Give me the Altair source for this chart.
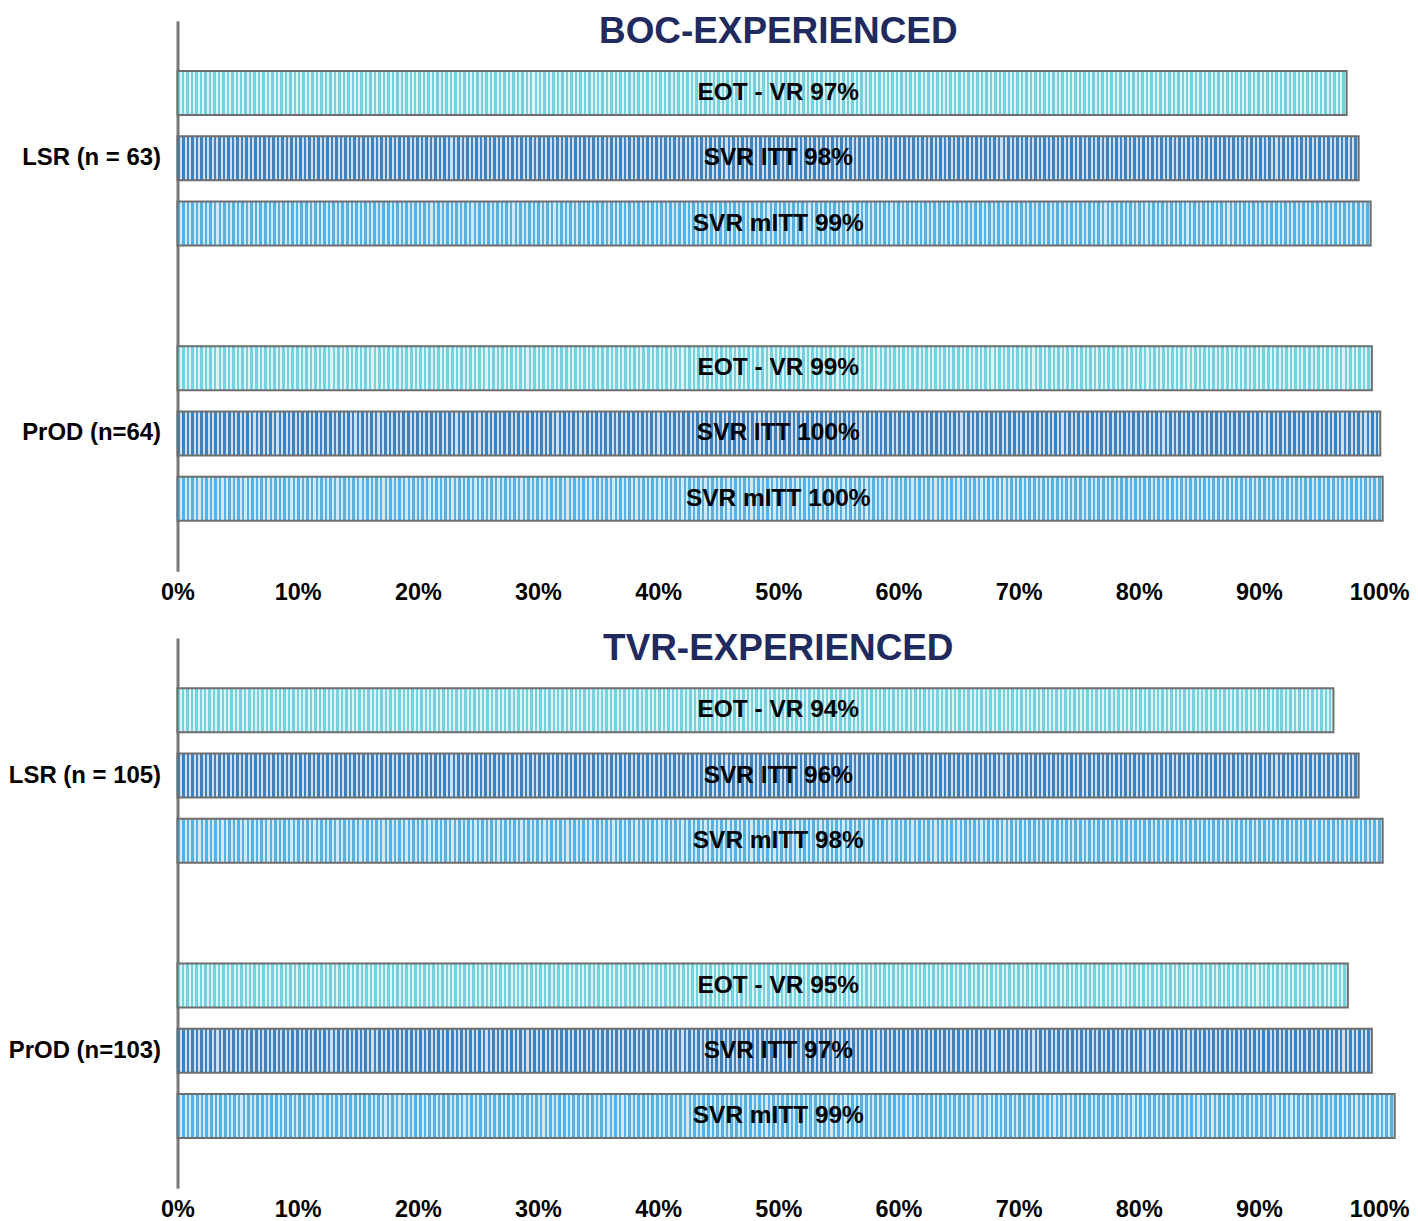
import altair as alt
import pandas as pd

FONT = "Liberation Sans"

measures = ["EOT - VR", "SVR ITT", "SVR mITT"]

boc_title = "BOC-EXPERIENCED"
boc_groups = ["LSR (n = 63)", "PrOD (n=64)"]
boc_values = [97.3, 98.3, 99.3, 99.4, 100.1, 100.3]  # bar lengths as drawn (%)
boc_labels = ["EOT - VR 97%", "SVR ITT 98%", "SVR mITT 99%",
              "EOT - VR 99%", "SVR ITT 100%", "SVR mITT 100%"]

tvr_title = "TVR-EXPERIENCED"
tvr_groups = ["LSR (n = 105)", "PrOD (n=103)"]
tvr_values = [96.2, 98.3, 100.3, 97.4, 99.4, 101.3]  # bar lengths as drawn (%)
tvr_labels = ["EOT - VR 94%", "SVR ITT 96%", "SVR mITT 98%",
              "EOT - VR 95%", "SVR ITT 97%", "SVR mITT 99%"]

x_ticks = [0, 10, 20, 30, 40, 50, 60, 70, 80, 90, 100]

# stripe styling (vertical pinstripes)
stripe_colors = {
    "EOT - VR": ("#74d2de", "#dcf4f7"),
    "SVR ITT": ("#3f82bd", "#cfe1f1"),
    "SVR mITT": ("#56b1e1", "#d2eaf7"),
}


def stripes(dark, light, n=262, frac=0.55):
    stops = []
    for i in range(n):
        a = i / n
        b = (i + frac) / n
        c = (i + 1) / n
        stops += [
            alt.GradientStop(offset=a, color=dark),
            alt.GradientStop(offset=b, color=dark),
            alt.GradientStop(offset=b, color=light),
            alt.GradientStop(offset=c, color=light),
        ]
    return alt.Gradient(gradient="linear", stops=stops, x1=0, x2=1, y1=0, y2=0)


gradients = {m: stripes(*stripe_colors[m]) for m in measures}

W = 1205
H = 552


def panel(title, groups, values, labels):
    df = pd.DataFrame({
        "group": [g for g in groups for _ in measures],
        "measure": measures * len(groups),
        "value": values,
        "label": labels,
    })
    base = alt.Chart(df)
    y = alt.Y("group:N", sort=groups,
              scale=alt.Scale(domain=groups, paddingInner=0, paddingOuter=0),
              axis=alt.Axis(title=None, ticks=False, domainColor="#777777",
                            domainWidth=3, labelFont=FONT, labelFontSize=24,
                            labelFontWeight="bold", labelColor="black",
                            labelPadding=17))
    yoff = alt.YOffset("measure:N", sort=measures,
                       scale=alt.Scale(domain=measures, paddingInner=0.327,
                                       paddingOuter=0.773))
    x = alt.X("value:Q", scale=alt.Scale(domain=[0, 100]),
              axis=alt.Axis(title=None, values=x_ticks, grid=False, domain=False,
                            ticks=False, labelExpr="datum.value + '%'",
                            labelFlush=False, labelOverlap=False,
                            labelFont=FONT, labelFontSize=23.5,
                            labelFontWeight="bold", labelColor="black",
                            labelPadding=9))
    layers = []
    for m in measures:
        layers.append(
            base.transform_filter(alt.datum.measure == m)
            .mark_bar(color=gradients[m], stroke="#6e6e6e", strokeWidth=2)
            .encode(x=x, y=y, yOffset=yoff)
        )
    text = base.mark_text(font=FONT, fontSize=24.5, fontWeight="bold",
                          color="black").encode(
        x=alt.datum(50), y=y, yOffset=yoff, text="label:N")
    ttl = alt.Chart(pd.DataFrame({"t": [title]})).mark_text(
        font=FONT, fontSize=37, fontWeight="bold", color="#202a5e",
        baseline="middle", align="center").encode(
        x=alt.value(W / 2), y=alt.value(11), text="t:N")
    return alt.layer(*layers, text, ttl).properties(width=W, height=H)


chart = alt.vconcat(
    panel(boc_title, boc_groups, boc_values, boc_labels),
    panel(tvr_title, tvr_groups, tvr_values, tvr_labels),
    spacing=26,
).properties(padding={"top": 3, "left": 0, "right": 0, "bottom": 0}).configure_view(stroke=None)

chart.save("out.html", embed_options={"renderer": "svg", "actions": False})
